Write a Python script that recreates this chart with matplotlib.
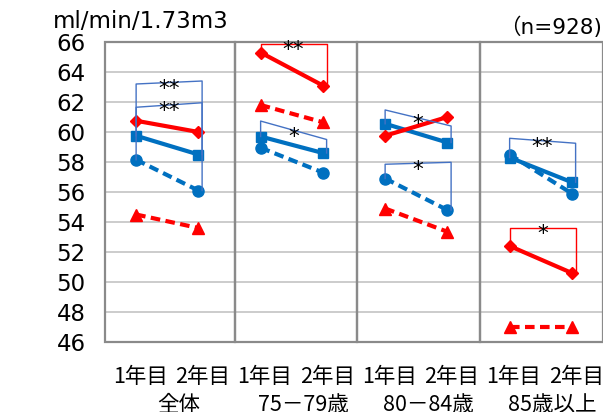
import matplotlib
matplotlib.use("Agg")
import matplotlib.pyplot as plt
from matplotlib.patches import Rectangle
from matplotlib import transforms

plt.rcParams['font.family'] = ['DejaVu Sans', 'Noto Sans CJK JP']

# ---------------- data ----------------
groups = ['全体', '75－79歳', '80－84歳', '85歳以上']
years = ['1年目', '2年目']
yticks = [46, 48, 50, 52, 54, 56, 58, 60, 62, 64, 66]

red_solid = [60.75, 60.0, 65.3, 63.1, 59.75, 61.0, 52.4, 50.6]      # diamonds
red_dashed = [54.5, 53.6, 61.8, 60.65, 54.9, 53.35, 47.0, 47.0]     # triangles
blue_solid = [59.75, 58.5, 59.7, 58.6, 60.55, 59.3, 58.3, 56.65]    # squares
blue_dashed = [58.15, 56.1, 58.95, 57.3, 56.9, 54.8, 58.5, 55.9]    # circles

# significance brackets
br_group = [0, 0, 1, 1, 2, 2, 3, 3]
br_series = ['blue_dashed', 'blue_solid', 'red_solid', 'blue_solid',
             'blue_solid', 'blue_dashed', 'blue_solid', 'red_solid']
br_top_left = [63.2, 61.65, 65.87, 60.73, 61.47, 57.85, 59.58, 53.62]
br_top_right = [63.4, 61.95, 65.87, 59.5, 60.4, 57.98, 59.25, 53.62]
br_marks = ['**', '**', '**', '*', '*', '*', '**', '*']

series = {
    'red_solid': red_solid,
    'red_dashed': red_dashed,
    'blue_solid': blue_solid,
    'blue_dashed': blue_dashed,
}

RED = '#FF0000'
BLUE = '#0070C0'
BR_BLUE = '#4472C4'

W, H = 603, 412
fig = plt.figure(figsize=(W / 100, H / 100), dpi=100)
ax_l, ax_r, ax_t, ax_b = 105, 603, 42, 342
ax = fig.add_axes([ax_l / W, 1 - ax_b / H, (ax_r - ax_l) / W, (ax_b - ax_t) / H])
ax.set_xlim(-0.5, 7.5)
ax.set_ylim(46, 66)
for s in ax.spines.values():
    s.set_visible(False)

ax.set_yticks(yticks)
ax.set_yticklabels([str(v) for v in yticks], fontsize=16.5)
ax.tick_params(axis='y', length=0, pad=14)
ax.set_xticks([])
ax.yaxis.grid(True, color='#C8C8C8', lw=1.3)
ax.set_axisbelow(True)

# panel boxes
bounds = [-0.5, 1.59, 3.55, 5.525, 7.5]
for i in range(4):
    ax.add_patch(Rectangle((bounds[i], 46), bounds[i + 1] - bounds[i], 20,
                           fill=False, ec='#8A8A8A', lw=1.6, clip_on=False, zorder=2))

styles = {
    'red_solid': dict(color=RED, ls='-', marker='D', ms=6.5),
    'red_dashed': dict(color=RED, ls=(0, (2.3, 1.3)), marker='^', ms=9),
    'blue_solid': dict(color=BLUE, ls='-', marker='s', ms=7),
    'blue_dashed': dict(color=BLUE, ls=(0, (2.3, 1.3)), marker='o', ms=8),
}
order = ['red_dashed', 'blue_dashed', 'blue_solid', 'red_solid']
for g in range(4):
    xs = [2 * g, 2 * g + 1]
    for name in order:
        vals = series[name]
        st = styles[name]
        ax.plot(xs, vals[2 * g:2 * g + 2], color=st['color'], ls=st['ls'], lw=3,
                marker=st['marker'], ms=st['ms'], mec=st['color'], mfc=st['color'],
                solid_capstyle='butt', dash_capstyle='butt', zorder=4, clip_on=False)

# brackets
for i in range(len(br_group)):
    g = br_group[i]
    vals = series[br_series[i]]
    x0 = 2 * g
    x1 = 2 * g + 1 + 0.06
    col = RED if br_series[i].startswith('red') else BR_BLUE
    ax.plot([x0, x0, x1, x1],
            [vals[2 * g], br_top_left[i], br_top_right[i], vals[2 * g + 1]],
            color=col, lw=1.0, zorder=5, clip_on=False)
    xm = (x0 + x1) / 2
    ym = (br_top_left[i] + br_top_right[i]) / 2
    fs = 15.5
    tr = transforms.offset_copy(ax.transData, fig=fig, x=0, y=-0.58 * fs, units='points')
    ax.text(xm, ym, br_marks[i], transform=tr, ha='center', va='baseline',
            fontsize=fs, color='black', zorder=6, family='DejaVu Sans')

# x labels
xt = ax.get_xaxis_transform()
for g in range(4):
    for k in range(2):
        ax.text(2 * g + k + 0.07, -0.117, years[k], transform=xt, ha='center',
                va='center', fontsize=15.5, family=['Noto Sans CJK JP'])
    ax.text(2 * g + 0.5 + 0.19, -0.21, groups[g], transform=xt, ha='center',
            va='center', fontsize=15.5, family=['Noto Sans CJK JP'])

fig.text(53 / W, 1 - 21 / H, 'ml/min/1.73m3', ha='left', va='center', fontsize=16.5)
fig.text(602 / W, 1 - 27 / H, '（n=928)', ha='right', va='center', fontsize=15.5,
         family=['DejaVu Sans', 'Noto Sans CJK JP'])

fig.savefig('out.png', dpi=100)
